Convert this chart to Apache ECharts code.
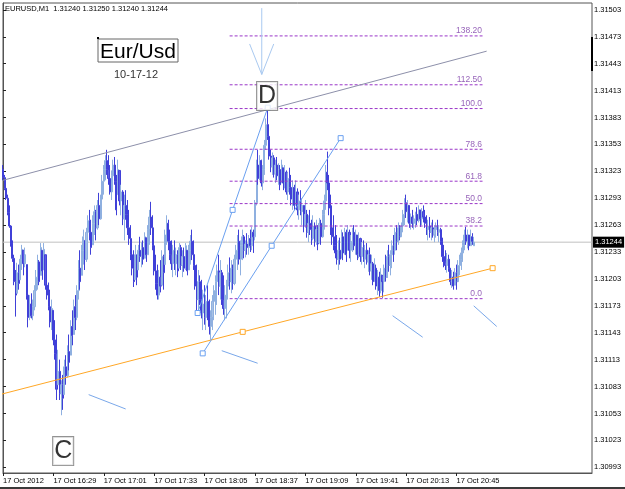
<!DOCTYPE html>
<html><head><meta charset="utf-8">
<script src="https://cdn.jsdelivr.net/npm/echarts@6/dist/echarts.min.js"></script>
<style>html,body{margin:0;padding:0;background:#fff}#c{width:625px;height:489px}</style>
</head><body><div id="c"></div>
<script>
// Prices stored as points above 1.30000 (1 point = 0.00001)
const BASE = 1.3, PT = 1e-5;
const opens = [
1325,1316,1304,1293,1277,1262,1242,1226,1200,1187,
1210,1202,1225,1235,1220,1219,1185,1160,1175,1162,
1172,1190,1205,1222,1207,1235,1213,1230,1196,1185,
1172,1155,1168,1135,1120,1085,1100,1075,1085,1074,
1105,1095,1122,1118,1150,1141,1172,1160,1190,1215,
1207,1235,1246,1225,1255,1268,1255,1241,1265,1278,
1260,1285,1270,1292,1312,1325,1335,1325,1315,1300,
1318,1330,1312,1297,1324,1290,1300,1270,1285,1275,
1260,1248,1230,1215,1202,1230,1213,1235,1228,1238,
1226,1249,1230,1258,1272,1260,1240,1212,1198,1185,
1205,1196,1228,1219,1252,1265,1245,1230,1220,1235,
1220,1230,1215,1238,1218,1228,1215,1235,1213,1235,
1245,1230,1218,1195,1180,1200,1180,1165,1175,1160,
1178,1165,1150,1160,1178,1190,1200,1212,1195,1210,
1180,1170,1185,1195,1210,1200,1215,1198,1225,1235,
1245,1225,1240,1250,1235,1242,1238,1248,1240,1255,
1250,1288,1330,1315,1335,1310,1325,1352,1375,1362,
1340,1328,1338,1320,1330,1318,1325,1310,1327,1310,
1322,1300,1315,1305,1292,1305,1285,1300,1280,1290,
1278,1285,1262,1275,1255,1265,1258,1248,1262,1245,
1258,1243,1265,1250,1275,1290,1322,1310,1282,1260,
1250,1240,1232,1225,1235,1226,1250,1232,1255,1235,
1255,1235,1245,1255,1240,1252,1230,1248,1228,1238,
1225,1235,1222,1230,1212,1220,1200,1215,1195,1205,
1190,1207,1200,1215,1205,1228,1218,1230,1240,1235,
1255,1245,1260,1250,1262,1275,1288,1278,1285,1265,
1272,1265,1270,1275,1268,1280,1270,1278,1272,1265,
1258,1262,1255,1260,1252,1258,1262,1255,1258,1245,
1228,1222,1218,1225,1215,1200,1205,1196,1210,1200,
1218,1225,1232,1240,1252,1245,1252,1240,1250,1240];
const highs = [
1330,1319,1311,1297,1285,1263,1246,1230,1213,1221,
1219,1230,1241,1235,1238,1219,1200,1185,1187,1180,
1196,1213,1230,1224,1243,1235,1243,1230,1219,1199,
1191,1180,1168,1157,1141,1124,1113,1090,1096,1113,
1118,1129,1141,1157,1168,1180,1185,1196,1224,1235,
1241,1258,1246,1260,1274,1280,1269,1274,1285,1280,
1291,1299,1297,1319,1330,1341,1347,1341,1330,1324,
1336,1339,1319,1336,1324,1308,1302,1297,1302,1291,
1280,1263,1246,1235,1241,1230,1241,1250,1244,1246,
1255,1249,1263,1280,1289,1274,1246,1230,1219,1213,
1224,1235,1230,1258,1274,1269,1258,1246,1241,1246,
1238,1235,1243,1241,1235,1238,1243,1235,1241,1252,
1258,1246,1230,1219,1213,1207,1202,1191,1196,1185,
1196,1180,1168,1185,1196,1207,1219,1230,1224,1213,
1207,1196,1202,1219,1227,1224,1219,1230,1241,1252,
1258,1246,1258,1252,1246,1254,1252,1258,1261,1258,
1291,1336,1347,1341,1336,1330,1358,1382,1395,1375,
1347,1344,1341,1336,1339,1332,1330,1336,1327,1330,
1324,1322,1327,1319,1313,1308,1313,1304,1297,1302,
1293,1285,1291,1280,1274,1280,1269,1274,1266,1269,
1263,1271,1269,1280,1297,1330,1345,1319,1297,1285,
1274,1263,1252,1246,1249,1258,1255,1260,1258,1263,
1258,1252,1260,1263,1258,1252,1255,1249,1244,1246,
1241,1243,1235,1238,1230,1222,1226,1219,1213,1211,
1215,1207,1219,1230,1235,1241,1235,1246,1252,1260,
1263,1266,1263,1266,1280,1293,1297,1291,1285,1276,
1280,1274,1278,1283,1285,1280,1282,1285,1280,1274,
1269,1272,1266,1269,1263,1266,1269,1263,1260,1249,
1241,1235,1232,1230,1215,1213,1211,1215,1219,1224,
1230,1238,1246,1258,1261,1258,1252,1258,1254,1250];
const lows = [
1313,1302,1291,1274,1260,1239,1222,1196,1161,1187,
1191,1202,1213,1207,1216,1180,1149,1157,1159,1157,
1168,1180,1191,1196,1207,1202,1213,1191,1180,1168,
1149,1146,1129,1113,1068,1085,1068,1051,1057,1074,
1085,1093,1101,1118,1129,1141,1146,1157,1180,1191,
1207,1219,1213,1222,1235,1246,1230,1241,1252,1246,
1258,1263,1269,1280,1297,1313,1319,1308,1297,1291,
1302,1308,1274,1297,1285,1274,1263,1246,1269,1252,
1241,1224,1207,1194,1202,1196,1213,1222,1216,1219,
1226,1222,1230,1241,1252,1235,1207,1191,1180,1180,
1188,1196,1191,1219,1241,1235,1224,1213,1205,1213,
1207,1205,1215,1213,1205,1211,1213,1207,1213,1219,
1224,1213,1191,1168,1165,1174,1159,1146,1152,1146,
1157,1141,1135,1146,1157,1163,1174,1185,1180,1174,
1163,1157,1159,1180,1191,1187,1191,1196,1202,1213,
1219,1207,1224,1226,1227,1230,1230,1233,1235,1232,
1246,1285,1308,1313,1306,1302,1319,1347,1358,1336,
1322,1319,1316,1310,1313,1308,1302,1310,1302,1304,
1297,1291,1297,1285,1280,1280,1285,1274,1269,1274,
1263,1255,1260,1249,1244,1252,1241,1246,1239,1241,
1235,1243,1241,1249,1258,1280,1302,1274,1252,1241,
1235,1226,1219,1213,1219,1226,1224,1230,1222,1235,
1226,1222,1233,1235,1230,1224,1226,1222,1219,1222,
1215,1219,1211,1207,1202,1196,1200,1191,1185,1183,
1187,1182,1188,1200,1204,1211,1207,1215,1222,1230,
1235,1241,1246,1250,1255,1263,1271,1266,1260,1258,
1260,1258,1260,1263,1266,1261,1263,1266,1260,1252,
1246,1249,1246,1249,1244,1249,1251,1244,1241,1222,
1216,1213,1210,1211,1196,1193,1191,1196,1191,1200,
1207,1213,1222,1235,1241,1237,1235,1240,1241,1240];
const closes = [
1316,1304,1293,1277,1262,1242,1226,1200,1185,1210,
1198,1225,1236,1220,1230,1185,1160,1175,1162,1172,
1190,1205,1222,1200,1238,1212,1236,1196,1185,1172,
1155,1170,1135,1120,1080,1100,1075,1085,1070,1105,
1095,1122,1110,1150,1140,1172,1160,1190,1215,1200,
1235,1250,1225,1255,1268,1255,1238,1265,1278,1260,
1285,1270,1292,1312,1325,1335,1325,1315,1300,1318,
1330,1312,1280,1325,1290,1300,1270,1285,1275,1260,
1248,1230,1215,1200,1230,1205,1235,1228,1238,1225,
1250,1230,1258,1272,1260,1240,1212,1198,1185,1205,
1195,1228,1210,1252,1265,1245,1230,1220,1235,1220,
1230,1212,1238,1218,1228,1215,1240,1212,1235,1245,
1230,1218,1195,1180,1200,1180,1165,1175,1160,1178,
1165,1150,1160,1178,1190,1200,1212,1195,1210,1180,
1170,1185,1195,1210,1200,1215,1198,1225,1235,1245,
1225,1240,1250,1235,1242,1238,1248,1240,1255,1250,
1288,1330,1315,1335,1310,1325,1352,1375,1362,1340,
1328,1338,1320,1330,1318,1325,1308,1330,1310,1322,
1300,1315,1305,1292,1305,1285,1300,1280,1290,1278,
1285,1262,1275,1255,1265,1258,1248,1262,1245,1258,
1242,1265,1250,1275,1290,1322,1310,1282,1260,1250,
1240,1232,1225,1235,1225,1250,1232,1255,1230,1255,
1235,1245,1255,1240,1252,1230,1248,1228,1238,1225,
1235,1222,1230,1212,1220,1200,1215,1195,1205,1190,
1208,1200,1215,1205,1228,1218,1230,1240,1235,1255,
1245,1260,1250,1262,1275,1288,1278,1285,1265,1272,
1265,1270,1275,1268,1280,1270,1278,1272,1265,1258,
1262,1255,1260,1252,1258,1262,1255,1258,1245,1228,
1222,1218,1225,1215,1200,1205,1195,1210,1200,1218,
1225,1232,1240,1252,1245,1252,1240,1250,1245,1244];

const CATEGORY_COUNT = 375;           // minutes shown on the axis (incl. right shift)
const LABEL_STEP = 32;                // bars between time labels
const xTickLabels = ['17 Oct 2012','17 Oct 16:29','17 Oct 17:01','17 Oct 17:33','17 Oct 18:05',
  '17 Oct 18:37','17 Oct 19:09','17 Oct 19:41','17 Oct 20:13','17 Oct 20:45'];
const yTicks = [1.30993,1.31023,1.31053,1.31083,1.31113,1.31143,1.31173,1.31203,1.31233,
  1.31263,1.31293,1.31323,1.31353,1.31383,1.31413,1.31443,1.31473,1.31503];
const yMin = 1.309866, yMax = 1.315107;

// Fibonacci retracement (points)
const fibZero = 1181, fibHundred = 1393;
const fibLevels = [0, 38.2, 50, 61.8, 78.6, 100, 112.5, 138.2];
const fibLabels = ['0.0','38.2','50.0','61.8','78.6','100.0','112.50','138.20'];
const fibFrom = 143.9, fibTo = 304.5;

// drawn objects: [barIndex, points]
const grayTrend = [[0,1313],[307.1,1457]];
const orangeTrend = [[-6.5,1072],[152.2,1144],[310.9,1215]];
const blueTrendA = [[123.6,1165],[145.8,1280],[168.1,1394]];
const blueTrendB = [[126.8,1120],[170.6,1240],[214.4,1360]];
const shortLines = [
  [[54.4,1074],[77.9,1058]],
  [[138.9,1123],[161.7,1109]],
  [[247.4,1162],[266.5,1138]],
  [[298.9,1173],[313.5,1150]]];
const arrowShaft = [[164.3,1505],[164.3,1431]];
const arrowHead = [[156.6,1465],[164.3,1431],[171.9,1465]];
const pointC = [38.2,1011], pointD = [167.7,1407];

const toP = v => +(BASE + v * PT).toFixed(6);
const FONT = 'Liberation Sans, Arial, sans-serif';
const cats = Array.from({length: CATEGORY_COUNT}, (_, i) => String(i));
const candle = opens.map((o, i) => [toP(o), toP(closes[i]), toP(lows[i]), toP(highs[i])]);
const showIdx = i => i % LABEL_STEP === 0 && i / LABEL_STEP < xTickLabels.length;
const n = opens.length;
const lastClose = toP(closes[n-1]);

function lineSeries(pts, color, opts) {
  opts = opts || {};
  return Object.assign({
    type: 'line', xAxisIndex: 1, yAxisIndex: 0, silent: true, animation: false,
    data: pts.map((p, k) => {
      const item = {value: [p[0], toP(p[1])]};
      if (opts.noSym && opts.noSym.indexOf(k) >= 0) item.symbol = 'none';
      return item;
    }),
    symbol: opts.markers ? 'rect' : 'none', symbolSize: 5, showSymbol: !!opts.markers,
    itemStyle: {color: '#fff', borderColor: color, borderWidth: 1},
    lineStyle: {color: color, width: 1, type: opts.type || 'solid'},
    z: opts.z || 3
  });
}

const series = [];
// bid line with price tag
series.push({
  type: 'line', xAxisIndex: 1, silent: true, animation: false, symbol: 'none',
  data: [[0, lastClose], [CATEGORY_COUNT - 1, lastClose]],
  lineStyle: {color: '#c0c0c0', width: 1}, z: 1,
  endLabel: {show: true, formatter: () => lastClose.toFixed(5), color: '#fff', backgroundColor: '#000',
    fontSize: 7.5, fontFamily: FONT, padding: [2, 2, 1, 2], distance: 1}
});
series.push({
  type: 'candlestick', xAxisIndex: 0, yAxisIndex: 0, data: candle, barWidth: 1.6, silent: true,
  animation: false, z: 2,
  itemStyle: {color: '#a6c0e4', color0: '#5a5ae2', borderColor: '#8fb0e0', borderColor0: '#4040d8', borderWidth: 1}
});
fibLevels.forEach((lv, k) => {
  const v = fibZero + (fibHundred - fibZero) * lv / 100;
  series.push(lineSeries([[fibFrom, v], [fibTo, v]], '#9a35c8', {type: [3, 2], z: 3}));
  series.push({
    type: 'scatter', xAxisIndex: 1, silent: true, animation: false, symbolSize: 1,
    itemStyle: {color: 'rgba(0,0,0,0)'}, data: [[fibTo, toP(v)]], z: 4,
    label: {show: true, position: 'left', distance: 0, offset: [0, -5], formatter: fibLabels[k],
      color: '#7a3aa6', fontSize: 8.5, fontFamily: FONT}
  });
});
series.push(lineSeries(grayTrend, '#8d90aa'));
series.push(lineSeries(orangeTrend, '#ffa726', {markers: true, noSym: [0]}));
series.push(lineSeries(blueTrendA, '#6aa0f0', {markers: true}));
series.push(lineSeries(blueTrendB, '#6aa0f0', {markers: true}));
shortLines.forEach(s => series.push(lineSeries(s, '#7aa8ea')));
series.push(lineSeries(arrowShaft, '#a9c9f0'));
series.push(lineSeries(arrowHead, '#a9c9f0'));
[[pointC, 'C'], [pointD, 'D']].forEach(([pt, t]) => series.push({
  type: 'scatter', xAxisIndex: 1, silent: true, animation: false, symbolSize: 1,
  itemStyle: {color: 'rgba(0,0,0,0)'}, data: [[pt[0], toP(pt[1])]], z: 6,
  label: {show: true, position: 'inside', formatter: t, color: '#000', fontSize: 25, fontFamily: FONT,
    backgroundColor: '#fff', borderColor: '#777', borderWidth: 1, padding: [1, 1, 0, 1], lineHeight: 27}
}));

const chart = echarts.init(document.getElementById('c'), null, {renderer: 'canvas'});
chart.setOption({
  animation: false,
  backgroundColor: '#fff',
  grid: {left: 3, right: 33, top: 3, bottom: 16, show: true, borderColor: '#555', borderWidth: 1, backgroundColor: '#fff'},
  xAxis: [{
    type: 'category', data: cats, boundaryGap: false,
    axisLine: {show: true, lineStyle: {color: '#555'}},
    axisTick: {show: true, length: 3, interval: showIdx, lineStyle: {color: '#222'}},
    axisLabel: {interval: showIdx, formatter: (v, i) => xTickLabels[Math.round(i / LABEL_STEP)], align: 'left',
      fontSize: 7.5, fontFamily: FONT, color: '#000', margin: 4},
    splitLine: {show: false}
  }, {
    type: 'value', min: 0, max: CATEGORY_COUNT - 1, show: false
  }],
  yAxis: {
    type: 'value', position: 'right', min: yMin, max: yMax, scale: true,
    splitLine: {show: false},
    axisLine: {show: true, lineStyle: {color: '#555'}},
    axisTick: {show: true, length: 3, customValues: yTicks, lineStyle: {color: '#222'}},
    axisLabel: {customValues: yTicks, formatter: v => v.toFixed(5), fontSize: 7.5, fontFamily: FONT, color: '#000', margin: 2}
  },
  graphic: [
    {type: 'text', left: 5, top: 5, z: 10, style: {
      text: 'EURUSD,M1  ' + [opens[n-1], highs[n-1], lows[n-1], closes[n-1]].map(v => toP(v).toFixed(5)).join(' '),
      font: '7.5px ' + FONT, fill: '#000'}},
    {type: 'rect', shape: {x: 98, y: 39, width: 80, height: 23}, z: 10, style: {fill: '#fff', stroke: '#666', lineWidth: 1}},
    {type: 'rect', shape: {x: 97, y: 37, width: 2, height: 2}, z: 11, style: {fill: '#000'}},
    {type: 'text', z: 11, style: {x: 138, y: 52, text: 'Eur/Usd', font: '21px ' + FONT, fill: '#000', align: 'center', verticalAlign: 'middle'}},
    {type: 'text', z: 11, style: {x: 136, y: 75, text: '10-17-12', font: '11px ' + FONT, fill: '#333', align: 'center', verticalAlign: 'middle'}},
    {type: 'rect', shape: {x: 591, y: 37, width: 2, height: 34}, z: 11, style: {fill: '#000'}},
    {type: 'rect', shape: {x: 0, y: 487, width: 625, height: 2}, z: 11, style: {fill: '#3a3a3a'}}
  ],
  series: series
});
</script></body></html>
